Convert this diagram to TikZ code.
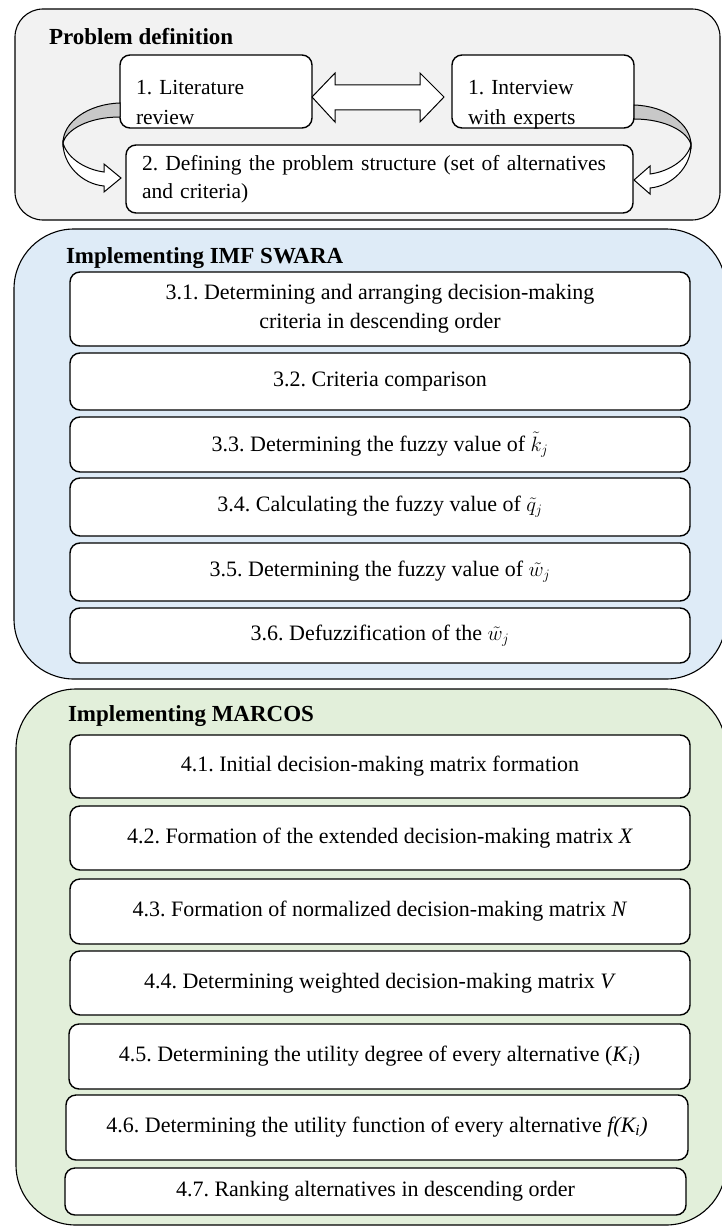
\documentclass[tikz,border=0pt]{standalone}
\usepackage{fontspec}
\setmainfont{Liberation Serif}
\frenchspacing
\definecolor{probgray}{RGB}{242,242,242}
\definecolor{swarablue}{RGB}{222,235,247}
\definecolor{marcosgreen}{RGB}{226,239,218}
\definecolor{shadegray}{RGB}{200,200,200}
\begin{document}
\begin{tikzpicture}[x=1pt,y=-1pt,
  panel/.style={draw=black,line width=1.1pt},
  paneltitle/.style={inner sep=0pt,outer sep=0pt,anchor=base west,font=\bfseries\fontsize{23}{27}\selectfont},
  stepbox/.style={draw=black,line width=1.4pt,fill=white,rounded corners=10pt,inner sep=0pt,
    minimum width=620pt,align=center,font=\fontsize{22}{29}\selectfont},
  sourcebox/.style={stepbox,align=left,font=\fontsize{21.5}{30}\selectfont},
  blockarrow/.style={draw=black,line width=1pt,fill=white,line join=miter}]
\path[use as bounding box] (0,0) rectangle (721,1228);
% panels
\path[panel,fill=probgray,rounded corners=28pt] (15,9) rectangle (720,220);
\path[panel,fill=swarablue,rounded corners=60pt] (14,229) rectangle (726,679);
\path[panel,fill=marcosgreen,rounded corners=60pt] (16,689) rectangle (726,1225);
\node[paneltitle] (tprob) at (49,45) {Problem definition};
\node[paneltitle] (tswara) at (66,263) {Implementing IMF SWARA};
\node[paneltitle] (tmarcos) at (68,721) {Implementing MARCOS};
% problem definition
\node[sourcebox,minimum width=192pt,minimum height=73pt,text width=160pt,text depth=9pt] (lit) at (216,91.5) {1. Literature\\review};
\node[sourcebox,minimum width=182pt,minimum height=73pt,text width=150pt,text depth=9pt] (expert) at (543,91.5) {1. Interview\\with experts};
\node[sourcebox,minimum width=507pt,minimum height=68pt,text width=475pt,font=\fontsize{21.5}{28}\selectfont] (structure) at (379.5,179) {2. Defining the problem structure (set of alternatives\\and criteria)};
\draw[blockarrow] (312,97) -- (335,73) -- (335,85) -- (420,85) -- (420,73) -- (444,97)
  -- (420,122) -- (420,110) -- (335,110) -- (335,122) -- cycle;
\draw[blockarrow,fill=shadegray] (120,103) .. controls (88,104) and (63,122) .. (63,143)
  .. controls (66,130) and (88,117) .. (120,117) -- cycle;
\draw[blockarrow] (63,143) .. controls (63,165) and (82,184) .. (104,186) -- (104,192) -- (121,178)
  -- (104,164) -- (104,172) .. controls (88,170) and (68,160) .. (63,143) -- cycle;
\draw[blockarrow,fill=shadegray] (634,105) .. controls (666,106) and (691,124) .. (691,145)
  .. controls (688,132) and (666,119) .. (634,119) -- cycle;
\draw[blockarrow] (691,145) .. controls (691,167) and (672,186) .. (650,188) -- (650,194) -- (634,180)
  -- (650,166) -- (650,174) .. controls (666,172) and (686,162) .. (691,145) -- cycle;
% IMF SWARA
\node[stepbox,minimum height=74pt] (s31) at (380,309) {3.1. Determining and arranging decision-making\\criteria in descending order};
\node[stepbox,minimum height=57pt] (s32) at (380,381.5) {3.2. Criteria comparison};
\node[stepbox,minimum height=55pt] (s33) at (380,444.5) {3.3. Determining the fuzzy value of $\tilde{k}_j$};
\node[stepbox,minimum height=58pt] (s34) at (380,507) {3.4. Calculating the fuzzy value of $\tilde{q}_j$};
\node[stepbox,minimum height=58pt] (s35) at (380,572) {3.5. Determining the fuzzy value of $\tilde{w}_j$};
\node[stepbox,minimum height=55pt] (s36) at (380,635.5) {3.6. Defuzzification of the $\tilde{w}_j$};
% MARCOS
\node[stepbox,minimum height=63pt] (m41) at (380,766.5) {4.1. Initial decision-making matrix formation};
\node[stepbox,minimum height=64pt] (m42) at (380,838) {4.2. Formation of the extended decision-making matrix \textit{X}};
\node[stepbox,minimum height=65pt] (m43) at (380,911.5) {4.3. Formation of normalized decision-making matrix \textit{N}};
\node[stepbox,minimum height=64pt] (m44) at (380,983) {4.4. Determining weighted decision-making matrix \textit{V}};
\node[stepbox,minimum height=65pt,minimum width=621pt] (m45) at (379.5,1056.5) {4.5. Determining the utility degree of every alternative (\textit{K}\textsubscript{\textit{i}})};
\node[stepbox,minimum height=65pt,minimum width=622pt] (m46) at (377,1127.5) {4.6. Determining the utility function of every alternative \textit{f(K\textsubscript{i})}};
\node[stepbox,minimum height=47pt,minimum width=621pt] (m47) at (375.5,1191.5) {4.7. Ranking alternatives in descending order};
\end{tikzpicture}
\end{document}
